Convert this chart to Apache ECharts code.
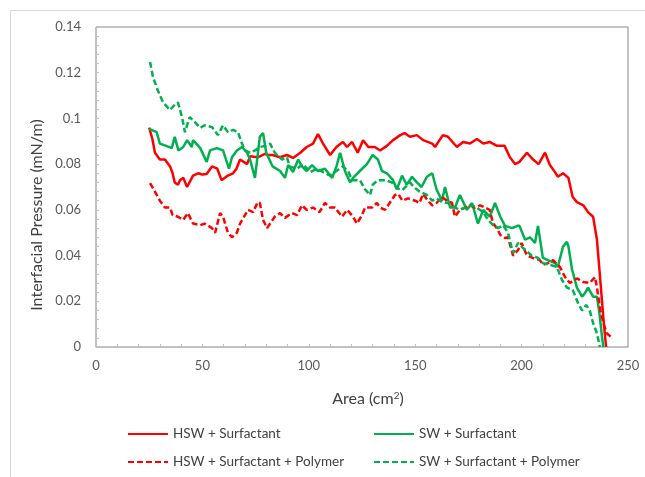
<!DOCTYPE html>
<html>
<head>
<meta charset="utf-8">
<script src="https://cdn.jsdelivr.net/npm/echarts@6/dist/echarts.min.js"></script>
<style>
  html, body { margin: 0; padding: 0; background: #fff; }
  #chart { width: 645px; height: 477px; }
</style>
</head>
<body>
<div id="chart"></div>
<script>
// Interfacial pressure vs. trough area, [area (cm²), pressure (mN/m)]
const hswSurfactant = [
  [25,0.096],[26.5,0.091],[27.7,0.085],[30,0.082],[32.4,0.082],[34.8,0.079],[36,0.076],[37,0.072],
  [38.5,0.071],[39.5,0.073],[41,0.074],[42.8,0.070],[45.6,0.075],[48,0.076],[50,0.0755],[52,0.0757],
  [54.5,0.079],[57,0.078],[59,0.073],[62,0.075],[64.4,0.076],[66,0.078],[67.7,0.082],[71,0.080],
  [72.4,0.0835],[76,0.083],[79.4,0.0845],[80.8,0.084],[83,0.084],[86.5,0.083],[89.7,0.084],[92.6,0.0827],
  [96,0.085],[99,0.0875],[102,0.089],[104.3,0.0932],[106.7,0.089],[110,0.084],[113,0.0875],[116,0.0897],
  [118,0.0875],[120.3,0.0897],[123,0.085],[125.5,0.0905],[128,0.0875],[131,0.0875],[133.5,0.086],
  [136.7,0.088],[139.6,0.0905],[143,0.0927],[145,0.0936],[147.5,0.092],[150.8,0.0927],[153.7,0.0905],
  [158,0.089],[159.3,0.0875],[163,0.0927],[165.4,0.092],[169.6,0.0875],[172.5,0.0897],[175.8,0.089],
  [179,0.091],[182,0.089],[185,0.0897],[188.4,0.088],[192,0.088],[194.5,0.083],[197,0.080],[199,0.081],
  [202.5,0.085],[205.4,0.082],[208,0.080],[211,0.085],[213.3,0.0796],[215.7,0.0765],[217,0.0745],
  [219.5,0.076],[222,0.074],[224,0.0656],[226,0.0634],[229,0.062],[231.2,0.059],[233.6,0.057],
  [235.4,0.047],[237,0.029],[238.4,0.013],[239.7,0]
];
const swSurfactant = [
  [25,0.0954],[28.5,0.094],[30,0.089],[33,0.088],[35.6,0.087],[37,0.092],[38.7,0.086],[41,0.0875],
  [42.8,0.0905],[45,0.0875],[45.6,0.0905],[49,0.087],[52,0.081],[53.6,0.086],[56.8,0.087],[59.7,0.086],
  [62.5,0.078],[63.9,0.083],[66.2,0.086],[68.6,0.0875],[71,0.085],[72.4,0.082],[74.7,0.074],[77,0.092],
  [78.5,0.0936],[80,0.085],[83,0.079],[86.5,0.077],[88.8,0.074],[90.3,0.0796],[92.6,0.0765],[95,0.082],
  [96.8,0.079],[99,0.077],[101.5,0.0796],[104.3,0.077],[107.6,0.078],[111,0.074],[113,0.079],[114.7,0.085],
  [117,0.077],[119.4,0.072],[120.8,0.074],[124,0.077],[127.3,0.080],[130,0.084],[132.5,0.082],[134.4,0.077],
  [136.7,0.076],[139.6,0.073],[141.4,0.069],[143.8,0.075],[146,0.071],[148.5,0.0745],[150.8,0.072],
  [153,0.070],[155.5,0.0745],[158,0.076],[160,0.069],[162.6,0.064],[164,0.070],[166.4,0.061],[168.7,0.061],
  [171,0.0665],[174.3,0.060],[176.7,0.063],[179.5,0.054],[182,0.060],[185,0.057],[187.5,0.063],[190,0.057],
  [192.2,0.053],[195.5,0.052],[198,0.053],[199,0.053],[201.6,0.047],[204,0.048],[206.3,0.0455],[207.7,0.053],
  [208.6,0.0525],[210,0.039],[212.4,0.038],[215.7,0.0367],[217,0.035],[219.5,0.044],[221.3,0.046],[222,0.044],
  [223.7,0.034],[226,0.026],[228.4,0.022],[229.8,0.0236],[231.2,0.026],[233.6,0.022],[235.4,0.022],
  [236.4,0.016],[237.8,0.0044],[238.4,0]
];
const hswSurfactantPolymer = [
  [25.4,0.0717],[27.7,0.068],[30,0.064],[32.4,0.061],[34.8,0.061],[36,0.0577],[38.5,0.057],[41,0.0556],
  [43.2,0.0586],[45.6,0.054],[49,0.0533],[51,0.054],[54.5,0.052],[56,0.050],[58.3,0.0586],[59.7,0.057],
  [62,0.050],[63.9,0.048],[66.2,0.050],[67.7,0.054],[70,0.0577],[71.4,0.060],[73.8,0.059],[76,0.0634],
  [77,0.063],[78.5,0.0556],[80.4,0.052],[84,0.057],[86.5,0.0586],[88.8,0.0565],[92,0.0586],[94.5,0.0577],
  [96.8,0.062],[99,0.060],[102,0.061],[105,0.059],[107.6,0.063],[110,0.061],[112.3,0.061],[115.6,0.057],
  [118,0.060],[120.8,0.057],[122.6,0.054],[125,0.0577],[126.4,0.061],[129.7,0.061],[132,0.063],[133.5,0.061],
  [135.8,0.060],[138,0.063],[140.5,0.0665],[142,0.067],[144,0.064],[146.6,0.065],[150,0.064],[152,0.063],
  [153.7,0.067],[156,0.064],[158,0.062],[160,0.063],[162.6,0.0656],[165,0.064],[167.3,0.063],[168.7,0.057],
  [171,0.060],[173.4,0.061],[175.8,0.062],[178,0.061],[180.5,0.062],[182.8,0.061],[185,0.060],[186.6,0.054],
  [188.4,0.052],[190,0.049],[192.2,0.0477],[193.6,0.048],[196,0.040],[198.3,0.0424],[200,0.0455],[202.5,0.040],
  [205.3,0.039],[208.6,0.038],[210,0.036],[212.4,0.0367],[214.8,0.038],[218,0.035],[220.4,0.0306],[222.7,0.028],
  [226,0.030],[229,0.0284],[232,0.028],[234.5,0.0306],[235.4,0.026],[237,0.016],[238.4,0.0105],[240,0.006],
  [242,0.0044]
];
const swSurfactantPolymer = [
  [25.4,0.1247],[26.8,0.118],[29,0.1124],[31.5,0.107],[34.8,0.1037],[37,0.106],[38.5,0.107],[40.4,0.1006],
  [41.8,0.094],[44,0.1006],[46.5,0.0984],[49,0.0958],[51,0.097],[54.5,0.0962],[57.3,0.0927],[59.7,0.097],
  [62,0.094],[64.4,0.095],[66.7,0.094],[68.6,0.089],[70,0.086],[72.4,0.085],[74.7,0.086],[77,0.0875],
  [79.5,0.088],[81.8,0.089],[84,0.085],[87.4,0.082],[89.7,0.083],[91,0.079],[94.5,0.078],[97.3,0.080],
  [100.6,0.0765],[103.8,0.078],[106.7,0.0765],[110,0.075],[113,0.077],[116,0.079],[118.5,0.077],[120.3,0.073],
  [124,0.073],[126.4,0.069],[128.8,0.0665],[130,0.071],[132.5,0.073],[135.8,0.073],[139,0.072],[141.4,0.0695],
  [144,0.0687],[147.5,0.072],[150,0.0695],[152,0.068],[155.5,0.0665],[158,0.064],[160,0.065],[162.6,0.0634],
  [165.4,0.063],[168.7,0.061],[171,0.060],[173.4,0.061],[176.7,0.062],[179,0.061],[182,0.059],[184.2,0.0556],
  [186.6,0.0533],[189,0.052],[191.3,0.0533],[193.6,0.050],[196,0.041],[198.3,0.0455],[200.7,0.0433],
  [204.8,0.040],[207.7,0.039],[210,0.0367],[213.3,0.036],[216.6,0.035],[219,0.0293],[221.3,0.026],[224,0.025],
  [226.6,0.019],[228.4,0.016],[230.3,0.0184],[232,0.016],[233.6,0.0105],[235.4,0.006],[236.8,0]
];

const seriesNames = ['HSW + Surfactant', 'SW + Surfactant', 'HSW + Surfactant + Polymer', 'SW + Surfactant + Polymer'];
const RED = '#FF0000', GREEN = '#00B050';
const FONT = 'Lato, "Open Sans", sans-serif';
const TEXT = '#595959';
const TITLE = '#404040';

function line(name, data, color, dashed) {
  return {
    name, type: 'line', data, showSymbol: false, symbol: 'none', smooth: false,
    animation: false, clip: true,
    lineStyle: { color, width: 2.5, type: dashed ? [6, 3] : 'solid' },
    itemStyle: { color }
  };
}

function legendAt(name, left, top) {
  return {
    data: [name], left, top, orient: 'horizontal',
    itemWidth: 40, itemHeight: 12, itemGap: 5,
    itemStyle: { opacity: 0 },
    textStyle: { fontFamily: FONT, fontSize: 13.5, color: TITLE }
  };
}

const chart = echarts.init(document.getElementById('chart'), null, { renderer: 'canvas' });
chart.setOption({
  backgroundColor: '#fff',
  animation: false,
  graphic: [
    {
      type: 'rect', shape: { x: 10.5, y: 10.5, width: 660, height: 500 },
      style: { fill: 'none', stroke: '#D9D9D9', lineWidth: 1 }, silent: true, z: -1
    },
    {
      // y-axis title
      type: 'text', x: 37, y: 215, rotation: Math.PI / 2, silent: true,
      style: {
        text: 'Interfacial Pressure (mN/m)', x: 0, y: 0,
        align: 'center', verticalAlign: 'middle',
        font: '16px Lato, "Open Sans", sans-serif', fill: TITLE
      }
    },
    {
      // x-axis title with superscript
      type: 'text', x: 368, y: 399, silent: true,
      style: {
        text: '{a|Area (cm}{s|2}{a|)}', x: 0, y: 0,
        align: 'center', verticalAlign: 'middle',
        rich: {
          a: { fontFamily: FONT, fontSize: 16, fill: TITLE, color: TITLE },
          s: { fontFamily: FONT, fontSize: 10, fill: TITLE, color: TITLE, verticalAlign: 'top', padding: [0, 0, 0, 0] }
        }
      }
    }
  ],
  grid: { left: 96, right: 17, top: 27, bottom: 130, show: true, borderColor: '#898989', borderWidth: 1, backgroundColor: 'transparent' },
  xAxis: {
    type: 'value', min: 0, max: 250, interval: 50,
    axisLine: { show: true, lineStyle: { color: '#BFBFBF', width: 1 } },
    axisTick: { show: true, inside: true, length: 3, lineStyle: { color: '#BFBFBF' } },
    minorTick: { show: true, splitNumber: 5, length: 3, lineStyle: { color: '#BFBFBF' } },
    axisLabel: { fontFamily: FONT, fontSize: 13, color: TEXT, margin: 12 },
    splitLine: { show: false }
  },
  yAxis: {
    type: 'value', min: 0, max: 0.14, interval: 0.02,
    axisLine: { show: true, lineStyle: { color: '#BFBFBF', width: 1 } },
    axisTick: { show: true, inside: true, length: 3, lineStyle: { color: '#BFBFBF' } },
    minorTick: { show: true, splitNumber: 5, length: 3, lineStyle: { color: '#BFBFBF' } },
    axisLabel: { fontFamily: FONT, fontSize: 13, color: TEXT, margin: 15,
      formatter: v => String(Math.round(v * 100) / 100) },
    splitLine: { show: false }
  },
  legend: [
    legendAt(seriesNames[0], 122, 422),
    legendAt(seriesNames[1], 368, 422),
    legendAt(seriesNames[2], 122, 450),
    legendAt(seriesNames[3], 368, 450)
  ],
  series: [
    line(seriesNames[0], hswSurfactant, RED, false),
    line(seriesNames[1], swSurfactant, GREEN, false),
    line(seriesNames[2], hswSurfactantPolymer, RED, true),
    line(seriesNames[3], swSurfactantPolymer, GREEN, true)
  ]
});
</script>
</body>
</html>
